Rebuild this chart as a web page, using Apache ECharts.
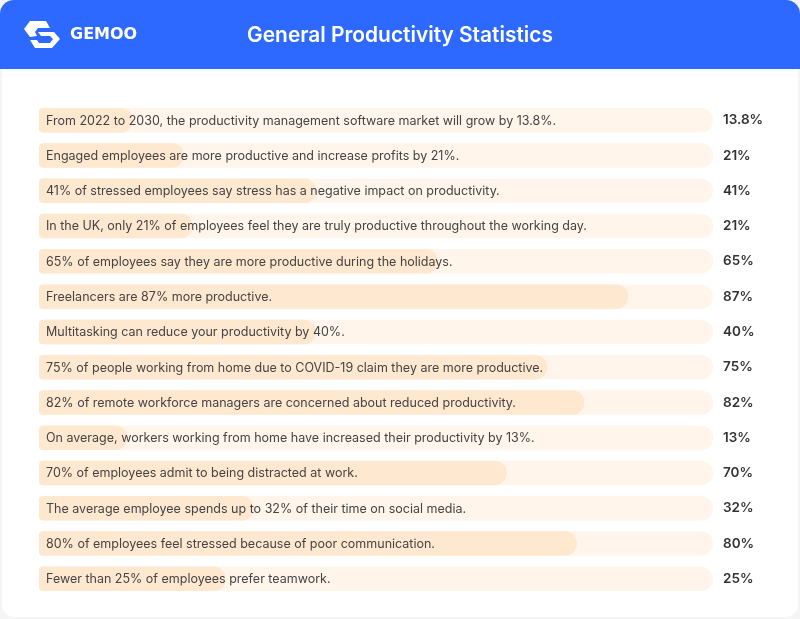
<!DOCTYPE html>
<html>
<head>
<meta charset="UTF-8">
<title>General Productivity Statistics</title>
<style>
	html, body { margin: 0; padding: 0; background: #fff; }
	#chart { width: 800px; height: 619px; }
</style>
<script src="https://cdn.jsdelivr.net/npm/echarts@6/dist/echarts.min.js"></script>
</head>
<body>
<div id="chart"></div>
<script>
var statements = [
	'From 2022 to 2030, the productivity management software market will grow by 13.8%.',
	'Engaged employees are more productive and increase profits by 21%.',
	'41% of stressed employees say stress has a negative impact on productivity.',
	'In the UK, only 21% of employees feel they are truly productive throughout the working day.',
	'65% of employees say they are more productive during the holidays.',
	'Freelancers are 87% more productive.',
	'Multitasking can reduce your productivity by 40%.',
	'75% of people working from home due to COVID-19 claim they are more productive.',
	'82% of remote workforce managers are concerned about reduced productivity.',
	'On average, workers working from home have increased their productivity by 13%.',
	'70% of employees admit to being distracted at work.',
	'The average employee spends up to 32% of their time on social media.',
	'80% of employees feel stressed because of poor communication.',
	'Fewer than 25% of employees prefer teamwork.'
];
// printed next to each bar
var valueLabels = ['13.8%', '21%', '41%', '21%', '65%', '87%', '40%', '75%', '82%', '13%', '70%', '32%', '80%', '25%'];
// bar lengths as drawn in the picture, some differ from the printed number
var barValues = [13.9, 21.5, 41.1, 22.8, 59.2, 87.4, 41.1, 75.4, 80.9, 13.1, 69.4, 31.9, 79.8, 27.7];
var trackValues = statements.map(function () { return 100; });

var chart = echarts.init(document.getElementById('chart'), null, { renderer: 'canvas' });

var option = {
	backgroundColor: '#f5f5f5',
	animation: false,
	title: {
		text: 'General Productivity Statistics',
		left: 395,
		top: 20,
		textAlign: 'center',
		textStyle: { fontFamily: 'Inter', fontSize: 20.9, fontWeight: 600, color: '#fff' }
	},
	graphic: [
		{
			type: 'rect', z: -10, silent: true,
			shape: { x: 2, y: 20, width: 796, height: 597, r: 12 },
			style: { fill: '#fff' }
		},
		{
			type: 'rect', z: -9, silent: true,
			shape: { x: 0, y: 0, width: 800, height: 69, r: [14, 14, 0, 0] },
			style: { fill: '#2e69ff' }
		},
		// logo
		{
			type: 'polygon', z: 5, silent: true,
			shape: { points: [[30, 21], [46, 21], [50, 28], [38, 28], [35, 32], [37, 36], [30, 37], [24, 29]] },
			style: { fill: '#fff' }
		},
		{
			type: 'polygon', z: 5, silent: true,
			shape: { points: [[38, 32], [54, 32], [60, 39], [52, 48], [35, 48], [30, 40], [37, 40], [39, 43], [50, 43], [53, 39], [50, 36], [41, 36]] },
			style: { fill: '#fff' }
		},
		{
			type: 'text', z: 5, silent: true,
			style: { x: 70, y: 34.5, text: 'GEMOO', fill: '#fff', font: 'bold 16px "DejaVu Sans"', verticalAlign: 'middle' }
		}
	],
	grid: { left: 39, top: 102.6, width: 674, height: 493.9 },
	xAxis: { type: 'value', min: 0, max: 100, show: false },
	yAxis: [
		{
			type: 'category',
			inverse: true,
			data: statements,
			axisLine: { show: false },
			axisTick: { show: false },
			axisLabel: { show: false }
		},
		{
			type: 'category',
			position: 'right',
			inverse: true,
			data: valueLabels,
			axisLine: { show: false },
			axisTick: { show: false },
			axisLabel: {
				margin: 10,
				align: 'left',
				fontFamily: 'Inter',
				fontSize: 13.5,
				fontWeight: 600,
				color: '#333',
				padding: [1, 0, 0, 0]
			}
		}
	],
	series: [
		{
			name: 'track',
			type: 'bar',
			barWidth: 24.5,
			barGap: '-100%',
			data: trackValues,
			itemStyle: { color: '#fff5eb', borderRadius: [4, 12, 12, 4] },
			silent: true,
			label: {
				show: true,
				position: 'insideLeft',
				distance: 7,
				offset: [0, 0.6],
				fontFamily: 'Inter',
				fontSize: 12.5,
				color: '#444',
				formatter: function (p) { return statements[p.dataIndex]; }
			}
		},
		{
			name: 'value',
			type: 'bar',
			barWidth: 24.5,
			barGap: '-100%',
			data: barValues,
			itemStyle: { color: '#ffe8d0', borderRadius: [4, 12, 12, 4] },
			silent: true
		}
	]
};
chart.setOption(option);
</script>
</body>
</html>
